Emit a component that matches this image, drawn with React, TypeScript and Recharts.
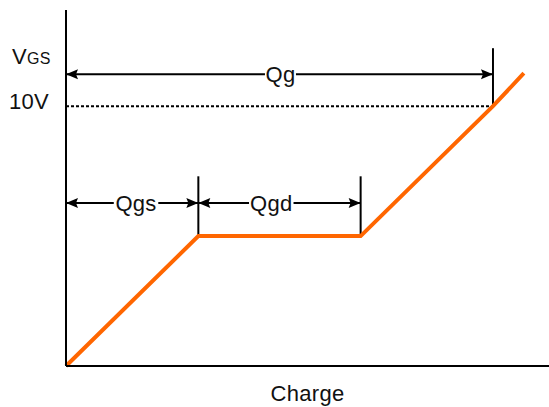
import { LineChart, Line, XAxis, YAxis, ReferenceLine } from "recharts";

// gate charge curve: VGS (V) against charge (arbitrary units)
const chargePoints = [0, 27.4, 61, 88.4, 94.8];
const vgsPoints = [0, 5, 5, 10, 11.27];

const VGS_TICKS = [10];
const DRIVE_VOLTAGE = 10;

// dimension arrows: label, start, end, level, where the label sits
const dimLabels = ["Qg", "Qgs", "Qgd"];
const dimFrom = [0, 0, 27.4];
const dimTo = [88.4, 27.4, 61];
const dimLevel = [11.23, 6.27, 6.27];
const dimLabelAt = [44.4, 14.5, 42.5];

// vertical extension lines: x, bottom, top
const extX = [27.4, 61, 88.4];
const extBottom = [5, 5, 10];
const extTop = [7.3, 7.3, 12.23];

const data = chargePoints.map((q, i) => ({ q, vgs: vgsPoints[i] }));

const FONT = "Liberation Sans, Arial, sans-serif";
const TEXT = "#111";
const ORANGE = "#FF6600";
const FS = 22;

function arrowShape(label: string, from: number, to: number, at: number) {
  return (props: any) => {
    const { x1, y1, x2 } = props;
    const y = y1;
    const cx = x1 + ((at - from) / (to - from)) * (x2 - x1);
    const w = label.length * 13.5 + 4;
    const len = 12;
    const hw = 5;
    return (
      <g>
        <line x1={x1} y1={y} x2={x2} y2={y} stroke="#000" strokeWidth={2} />
        <polygon
          points={`${x1},${y} ${x1 + len},${y - hw} ${x1 + len - 2},${y} ${x1 + len},${y + hw}`}
          fill="#000"
        />
        <polygon
          points={`${x2},${y} ${x2 - len},${y - hw} ${x2 - len + 2},${y} ${x2 - len},${y + hw}`}
          fill="#000"
        />
        <rect x={cx - w / 2} y={y - 12} width={w} height={24} fill="#fff" />
        <text
          x={cx}
          y={y + 8}
          textAnchor="middle"
          fontFamily={FONT}
          fontSize={FS}
          letterSpacing={0.3}
          fill={TEXT}
        >
          {label}
        </text>
      </g>
    );
  };
}

function VgsLabel(props: any) {
  const vb = props.viewBox;
  return (
    <text
      x={vb.x + 12}
      y={vb.y + 54}
      fontFamily={FONT}
      fill={TEXT}
      letterSpacing={0.3}
    >
      <tspan fontSize={FS}>V</tspan>
      <tspan fontSize={16}>GS</tspan>
    </text>
  );
}

export default function App() {
  return (
    <div style={{ position: "absolute", left: 0, top: 0, background: "#fff" }}>
      <LineChart
        width={549}
        height={407}
        data={data}
        margin={{ top: 10, right: 0, bottom: 0, left: 0 }}
      >
        <XAxis
          dataKey="q"
          type="number"
          domain={[0, 100]}
          height={41}
          tick={false}
          tickLine={false}
          axisLine={{ stroke: "#000", strokeWidth: 2 }}
          label={{
            value: "Charge",
            position: "insideBottom",
            offset: 6,
            fill: TEXT,
            fontSize: FS,
            fontFamily: FONT,
            letterSpacing: 0.3,
          }}
        />
        <YAxis
          type="number"
          domain={[0, 13.7]}
          width={66}
          ticks={VGS_TICKS}
          tickFormatter={(v: number) => `${v}V`}
          tickLine={false}
          tickSize={0}
          tickMargin={17}
          tick={{ fill: TEXT, fontSize: FS, fontFamily: FONT, dy: -5, letterSpacing: 0.3 }}
          axisLine={{ stroke: "#000", strokeWidth: 2 }}
          label={<VgsLabel />}
        />
        <ReferenceLine
          segment={[
            { x: 0, y: DRIVE_VOLTAGE },
            { x: extX[2], y: DRIVE_VOLTAGE },
          ]}
          stroke="#000"
          strokeWidth={2}
          strokeDasharray="3 2"
        />
        {extX.map((x, i) => (
          <ReferenceLine
            key={`ext-${i}`}
            segment={[
              { x, y: extBottom[i] },
              { x, y: extTop[i] },
            ]}
            stroke="#000"
            strokeWidth={2}
          />
        ))}
        <Line
          type="linear"
          dataKey="vgs"
          stroke={ORANGE}
          strokeWidth={4}
          dot={false}
          isAnimationActive={false}
        />
        {dimLabels.map((label, i) => (
          <ReferenceLine
            key={label}
            segment={[
              { x: dimFrom[i], y: dimLevel[i] },
              { x: dimTo[i], y: dimLevel[i] },
            ]}
            shape={arrowShape(label, dimFrom[i], dimTo[i], dimLabelAt[i])}
          />
        ))}
      </LineChart>
    </div>
  );
}
